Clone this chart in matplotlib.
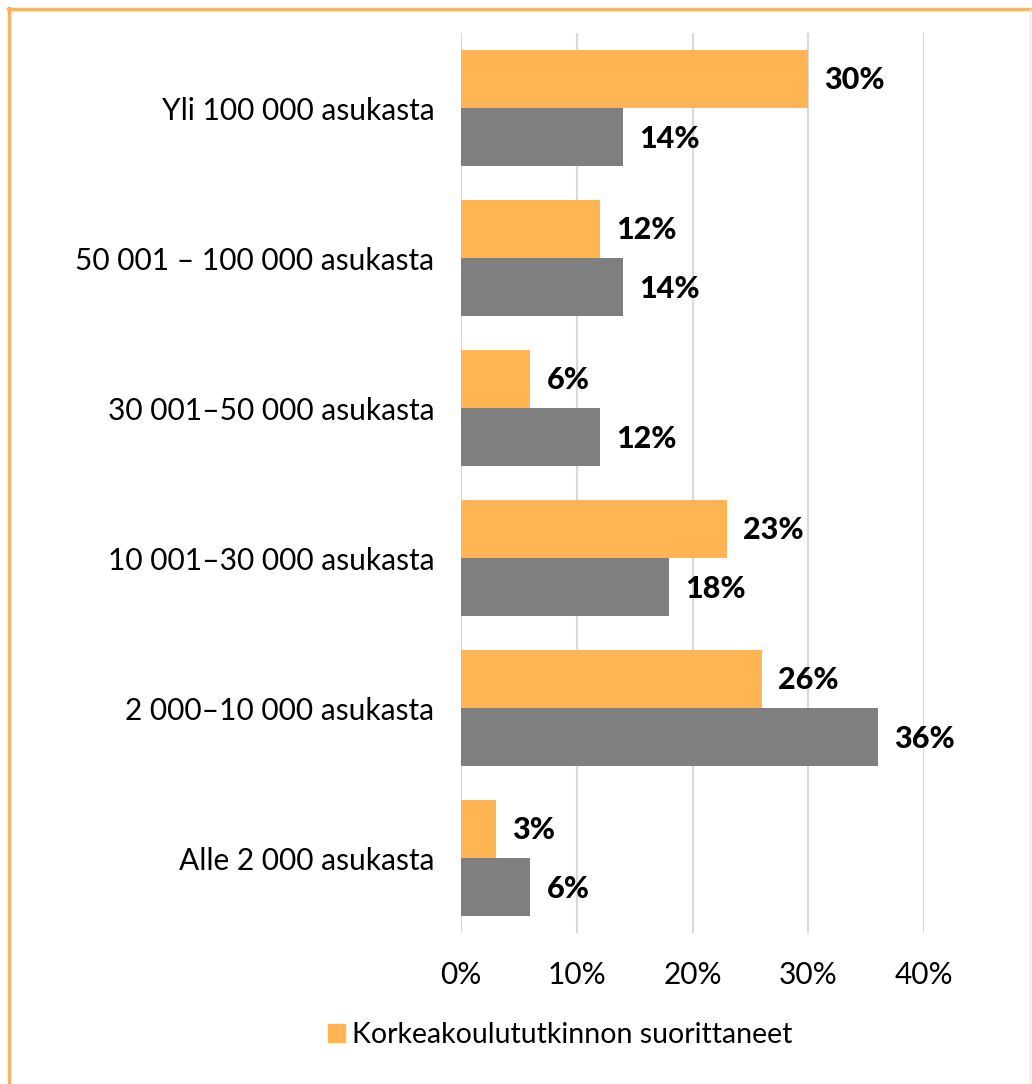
import numpy as np
import matplotlib
matplotlib.use("Agg")
import matplotlib.pyplot as plt
from matplotlib.lines import Line2D
from matplotlib.patches import Patch

plt.rcParams.update({"font.family": ["Lato", "DejaVu Sans"]})

categories = ["Yli 100 000 asukasta", "50 001 – 100 000 asukasta",
              "30 001–50 000 asukasta", "10 001–30 000 asukasta",
              "2 000–10 000 asukasta", "Alle 2 000 asukasta"]
korkeakoulu = [30, 12, 6, 23, 26, 3]
muut = [14, 14, 12, 18, 36, 6]
xticks = [0, 10, 20, 30, 40]

ORANGE = "#FFB553"
GRAY = "#7F7F7F"
BORDER = "#F7B35F"

W, H = 1032, 1084
fig = plt.figure(figsize=(W / 100, H / 100), dpi=100)
ax = fig.add_axes([461 / W, 1 - 933 / H, (924 - 461) / W, (933 - 33) / H])

y = np.arange(len(categories))
bh = 0.387
ax.barh(y - bh / 2, korkeakoulu, height=bh, color=ORANGE, zorder=3)
ax.barh(y + bh / 2, muut, height=bh, color=GRAY, zorder=3)

# data labels
for yi, v in zip(y, korkeakoulu):
    ax.text(v + 1.4, yi - bh / 2 + 0.01, f"{v}%", va="center", ha="left",
            fontsize=22, fontweight="black", color="black")
for yi, v in zip(y, muut):
    ax.text(v + 1.4, yi + bh / 2 + 0.01, f"{v}%", va="center", ha="left",
            fontsize=22, fontweight="black", color="black")

ax.set_xlim(0, 40)
ax.set_ylim(len(categories) - 0.5, -0.5)
ax.set_xticks(xticks)
ax.set_xticklabels([f"{t}%" for t in xticks], fontsize=21.5)
ax.set_yticks(y)
ax.set_yticklabels(categories, fontsize=21.5)
ax.tick_params(length=0, pad=19, axis="y")
ax.tick_params(length=0, pad=20, axis="x")
ax.xaxis.grid(True, color="#D9D9D9", lw=1.5, zorder=0)
for sp in ax.spines.values():
    sp.set_visible(False)

fig.legend(handles=[Patch(color=ORANGE, label="Korkeakoulututkinnon suorittaneet")],
           loc="center left", bbox_to_anchor=(302 / W, 1 - 1035 / H), frameon=False,
           fontsize=20.5, handlelength=0.6, handleheight=0.6, handletextpad=0.25)

# orange frame (left and top), faint right edge
fig.add_artist(Line2D([9 / W, 9 / W], [0, 1 - 8 / H], color=BORDER, lw=2.5,
                      transform=fig.transFigure))
fig.add_artist(Line2D([8 / W, 1], [1 - 9 / H, 1 - 9 / H], color=BORDER, lw=2.5,
                      transform=fig.transFigure))
fig.add_artist(Line2D([1030 / W, 1030 / W], [0, 1 - 9 / H], color="#F3E6D6", lw=1,
                      transform=fig.transFigure))

fig.savefig("out.png", dpi=100)
